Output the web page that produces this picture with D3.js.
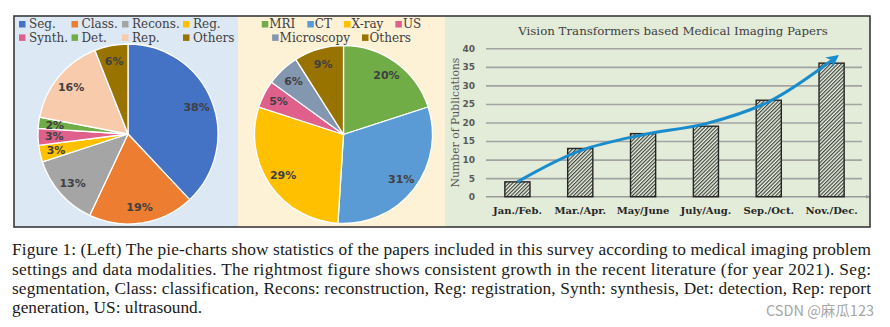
<!DOCTYPE html>
<html><head><meta charset="utf-8">
<script src="https://cdn.jsdelivr.net/npm/d3@7/dist/d3.min.js"></script>
<style>html,body{margin:0;padding:0;background:#fff;} svg{display:block;}</style>
</head><body><svg id="c" width="890" height="327"></svg>
<script>
// ---------- data ----------
const taskCategories = ["Seg.", "Class.", "Recons.", "Reg.", "Synth.", "Det.", "Rep.", "Others"];
const taskValues = [38, 19, 13, 3, 3, 2, 16, 6];
const taskColors = ["#4472c4", "#ed7d31", "#a5a5a5", "#ffc000", "#e0608c", "#70ad47", "#f8cbad", "#997300"];

const modalityCategories = ["MRI", "CT", "X-ray", "US", "Microscopy", "Others"];
const modalityValues = [20, 31, 29, 5, 6, 9];
const modalityColors = ["#70ad47", "#5b9bd5", "#ffc000", "#e0608c", "#8497b0", "#997300"];

const periodLabels = ["Jan./Feb.", "Mar./Apr.", "May/June", "July/Aug.", "Sep./Oct.", "Nov./Dec."];
const publicationCounts = [4, 13, 17, 19, 26, 36];
const yTicks = [0, 5, 10, 15, 20, 25, 30, 35, 40];
// hand-drawn trend arrow (position in category units, value)
const trendPos = [0, 1, 2, 3, 4, 5.07];
const trendValues = [4, 12.4, 16.7, 19.7, 25.6, 37.6];

const barTitle = "Vision Transformers based Medical Imaging Papers";
const yTitle = "Number of Publications";
const captionLines = [
  "Figure 1: (Left) The pie-charts show statistics of the papers included in this survey according to medical imaging problem",
  "settings and data modalities. The rightmost figure shows consistent growth in the recent literature (for year 2021). Seg:",
  "segmentation, Class: classification, Recons: reconstruction, Reg: registration, Synth: synthesis, Det: detection, Rep: report",
  "generation, US: ultrasound."
];
const watermark = "CSDN @麻瓜123";

// ---------- drawing ----------
const svg = d3.select("#c");
const defs = svg.append("defs");
const pat = defs.append("pattern").attr("id", "hatch").attr("patternUnits", "userSpaceOnUse")
  .attr("width", 2.6).attr("height", 2.6).attr("patternTransform", "rotate(45)");
pat.append("rect").attr("width", 2.6).attr("height", 2.6).attr("fill", "#f1f3ea");
pat.append("line").attr("x1", 0.6).attr("y1", 0).attr("x2", 0.6).attr("y2", 2.6)
  .attr("stroke", "#3c4636").attr("stroke-width", 1.2);
defs.append("marker").attr("id", "arr").attr("viewBox", "0 0 10 10").attr("refX", 7).attr("refY", 5)
  .attr("markerWidth", 4.2).attr("markerHeight", 4.2).attr("orient", "auto")
  .append("path").attr("d", "M0,0 L10,5 L0,10 L3,5 Z").attr("fill", "#1b8ccb");
defs.append("marker").attr("id", "axarr").attr("viewBox", "0 0 10 10").attr("refX", 9).attr("refY", 5)
  .attr("markerWidth", 5).attr("markerHeight", 5).attr("orient", "auto").attr("markerUnits", "userSpaceOnUse")
  .append("path").attr("d", "M0,1 L10,5 L0,9 Z").attr("fill", "#9a9a9a");

// panels
svg.append("rect").attr("x", 14).attr("y", 16).attr("width", 224).attr("height", 211).attr("fill", "#dde8f5");
svg.append("rect").attr("x", 238).attr("y", 16).attr("width", 207).attr("height", 211).attr("fill", "#fdf1d6");
svg.append("rect").attr("x", 445).attr("y", 16).attr("width", 425).attr("height", 211).attr("fill", "#e2ecd9");

const serif = "'DejaVu Serif', serif";
const txtColor = "#404040";

function drawPie(cx, cy, r, values, colors) {
  const pie = d3.pie().sort(null).value(d => d);
  const arcs = pie(values);
  const arc = d3.arc().innerRadius(0).outerRadius(r);
  const lab = d3.arc().innerRadius(r * 0.82).outerRadius(r * 0.82);
  const g = svg.append("g").attr("transform", `translate(${cx},${cy})`);
  g.selectAll("path").data(arcs).join("path").attr("d", arc)
    .attr("fill", (d, i) => colors[i]).attr("stroke", "#fff").attr("stroke-width", 1.3);
  g.selectAll("text").data(arcs).join("text")
    .attr("transform", d => `translate(${lab.centroid(d)})`)
    .attr("text-anchor", "middle").attr("dy", "0.36em")
    .attr("font-family", "'DejaVu Sans', sans-serif").attr("font-weight", "bold")
    .attr("font-size", 11).attr("fill", txtColor)
    .text(d => d.data + "%");
}
drawPie(128, 134, 90, taskValues, taskColors);
drawPie(343.5, 134.5, 89, modalityValues, modalityColors);

// left legend (column layout)
const leftCols = [19, 71.5, 122, 183];
taskCategories.forEach((c, i) => {
  const col = i % 4, row = Math.floor(i / 4);
  const x = leftCols[col], y = 28.3 + row * 13.4;
  svg.append("rect").attr("x", x).attr("y", y - 7.3).attr("width", 6.5).attr("height", 6.5).attr("fill", taskColors[i]);
  svg.append("text").attr("x", x + 10).attr("y", y).attr("font-family", serif).attr("font-size", 12)
    .attr("fill", txtColor).text(c);
});

// middle legend (flow, centered rows)
const midRows = [[0, 1, 2, 3], [4, 5]];
midRows.forEach((row, ri) => {
  const y = 28.3 + ri * 13.4;
  const g = svg.append("g");
  let x = 0;
  row.forEach(i => {
    g.append("rect").attr("x", x).attr("y", y - 7.3).attr("width", 6.5).attr("height", 6.5).attr("fill", modalityColors[i]);
    const t = g.append("text").attr("x", x + 7.5).attr("y", y).attr("font-family", serif).attr("font-size", 12)
      .attr("fill", txtColor).text(modalityCategories[i]);
    x += 7.5 + t.node().getComputedTextLength() + 12;
  });
  const w = x - 12;
  g.attr("transform", `translate(${341.5 - w / 2},0)`);
});

// bar chart
const x = d3.scaleBand().domain(periodLabels).range([486, 863]).paddingInner(0.6).paddingOuter(0.3);
const y = d3.scaleLinear().domain([0, 40]).range([196.7, 48.3]);

const gy = svg.append("g").attr("transform", "translate(486,0)")
  .call(d3.axisLeft(y).tickValues(yTicks).tickSize(-376).tickPadding(11));
gy.select(".domain").remove();
gy.selectAll(".tick line").attr("stroke", "#a3a3a3").attr("stroke-width", 1.6)
  .attr("opacity", (d) => d === 0 ? 0 : 1);
gy.selectAll(".tick text").attr("font-family", "'DejaVu Sans', sans-serif").attr("font-weight", "bold")
  .attr("font-size", 9).attr("fill", "#595959");

// x axis line with arrow
svg.append("line").attr("x1", 486).attr("x2", 870).attr("y1", y(0)).attr("y2", y(0))
  .attr("stroke", "#9a9a9a").attr("stroke-width", 1.6).attr("marker-end", "url(#axarr)");

svg.append("g").selectAll("rect").data(publicationCounts).join("rect")
  .attr("x", (d, i) => x(periodLabels[i])).attr("width", x.bandwidth())
  .attr("y", d => y(d)).attr("height", d => y(0) - y(d))
  .attr("fill", "url(#hatch)").attr("stroke", "#262626").attr("stroke-width", 1.4);

const gx = svg.append("g").attr("transform", `translate(0,${y(0)})`)
  .call(d3.axisBottom(x).tickSize(0).tickPadding(10));
gx.select(".domain").remove();
gx.selectAll(".tick text").attr("font-family", serif).attr("font-weight", "bold")
  .attr("font-size", 10).attr("fill", "#262626");

// trend arrow
const tx = d3.scaleLinear().domain([0, 1]).range([x(periodLabels[0]) + x.bandwidth() / 2, x(periodLabels[1]) + x.bandwidth() / 2]);
const trendLine = d3.line().x(d => tx(d[0])).y(d => y(d[1])).curve(d3.curveCatmullRom.alpha(0.5));
svg.append("path").attr("d", trendLine(trendPos.map((p, i) => [p, trendValues[i]])))
  .attr("fill", "none").attr("stroke", "#1b8ccb").attr("stroke-width", 3).attr("marker-end", "url(#arr)");

// titles
svg.append("text").attr("x", 673).attr("y", 34.5).attr("text-anchor", "middle")
  .attr("font-family", serif).attr("font-size", 11.8).attr("fill", txtColor).text(barTitle);
svg.append("text").attr("transform", "translate(459,122.5) rotate(-90)").attr("text-anchor", "middle")
  .attr("font-family", serif).attr("font-size", 10.8).attr("fill", "#595959").text(yTitle);

// outer border
svg.append("rect").attr("x", 14).attr("y", 16).attr("width", 856).attr("height", 211)
  .attr("fill", "none").attr("stroke", "#3a3a3a").attr("stroke-width", 1.6);

// caption
const capY = [255, 274.5, 294, 313];
captionLines.forEach((l, i) => {
  const t = svg.append("text").attr("x", 12).attr("y", capY[i]).attr("font-family", "'Liberation Serif', serif")
    .attr("font-size", 17.3).attr("fill", "#1a1a1a").text(l);
  if (i < 3) t.attr("textLength", 859).attr("lengthAdjust", "spacing");
});
svg.append("text").attr("x", 874).attr("y", 315.5).attr("text-anchor", "end")
  .attr("font-family", "'Noto Sans CJK SC', sans-serif").attr("font-size", 14.5).attr("fill", "#a6a6a6").text(watermark);
</script>
</body></html>
